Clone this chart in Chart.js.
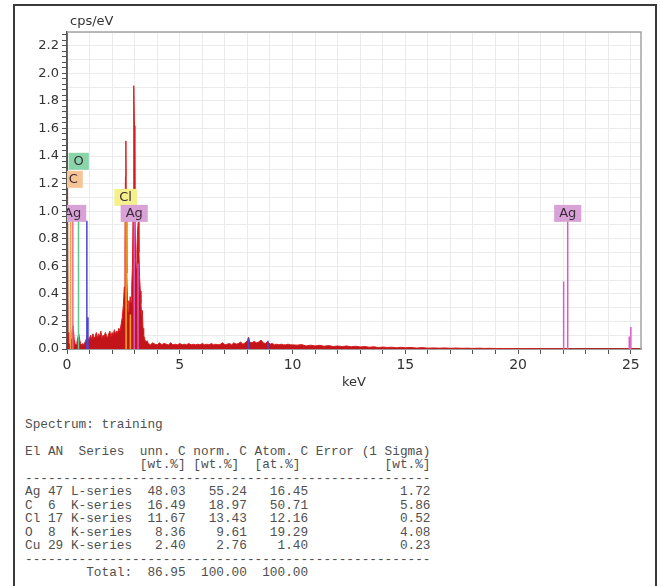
<!DOCTYPE html>
<html>
<head>
<meta charset="utf-8">
<script src="https://cdn.jsdelivr.net/npm/chart.js@4.4.0/dist/chart.umd.min.js"></script>
<style>
  html, body { margin: 0; padding: 0; background: #fff; width: 660px; height: 586px; overflow: hidden; }
  #frame { position: absolute; left: 13px; top: 4px; width: 640px; height: 640px; border: 2px solid #3a3a3a; border-bottom: none; }
  #wrap { position: absolute; left: 0; top: 0; width: 660px; height: 400px; }
  #table { position: absolute; left: 25px; top: 418px; margin: 0; font: 12.75px/13.45px "Liberation Mono", monospace; color: #505050; }
</style>
</head>
<body>
<div id="frame"></div>
<div id="wrap"><canvas id="chart" width="660" height="400"></canvas></div>
<pre id="table"></pre>
<script>
// Spektrum (keV / cps/eV)
const specKeV = [
  0.00, 0.03, 0.05, 0.08, 0.11, 0.14, 0.18, 0.22, 0.26, 0.29, 0.32, 0.36, 0.40, 0.44, 0.48, 0.52,
  0.56, 0.60, 0.65, 0.70, 0.75, 0.80, 0.85, 0.90, 0.95, 1.00, 1.05, 1.10, 1.15, 1.20, 1.25, 1.30,
  1.35, 1.40, 1.45, 1.50, 1.55, 1.60, 1.65, 1.70, 1.75, 1.80, 1.85, 1.90, 1.95, 2.00, 2.05, 2.10,
  2.15, 2.20, 2.25, 2.30, 2.35, 2.40, 2.45, 2.50, 2.54, 2.57, 2.59, 2.61, 2.63, 2.65, 2.68, 2.71,
  2.74, 2.77, 2.80, 2.84, 2.87, 2.90, 2.93, 2.95, 2.97, 2.99, 3.01, 3.04, 3.07, 3.10, 3.13, 3.16,
  3.19, 3.22, 3.25, 3.28, 3.31, 3.34, 3.37, 3.40, 3.45, 3.50, 3.55,
  3.60, 3.70, 3.80, 3.90, 4.00, 4.10, 4.20, 4.30, 4.40, 4.50, 4.60, 4.70, 4.80, 4.90, 5.00, 5.10,
  5.20, 5.30, 5.40, 5.50, 5.60, 5.70, 5.80, 5.90, 6.00, 6.10, 6.20, 6.30, 6.40, 6.50, 6.60, 6.70,
  6.80, 6.90, 7.00, 7.10, 7.20, 7.30, 7.40, 7.50, 7.60, 7.70, 7.80, 7.90, 8.00, 8.05, 8.10, 8.20,
  8.30, 8.40, 8.50, 8.60, 8.70, 8.80, 8.90, 9.00, 9.10, 9.20, 9.30, 9.40, 9.50, 9.60, 9.70, 9.80,
  9.90, 10.0, 10.2, 10.4, 10.6, 10.8, 11.0, 11.2, 11.4, 11.6, 11.8, 12.0, 12.2, 12.4, 12.6, 12.8,
  13.0, 13.2, 13.4, 13.6, 13.8, 14.0, 14.2, 14.4, 14.6, 14.8, 15.0, 15.25, 15.5, 15.75, 16.0, 16.25,
  16.5, 16.75, 17.0, 17.25, 17.5, 17.75, 18.0, 18.25, 18.5, 18.75, 19.0, 19.25, 19.5, 19.75, 20.0, 20.5,
  21.0, 21.5, 22.0, 22.5, 23.0, 24.0, 25.0, 25.45
];
const specCps = [
  2.40, 2.40, 0.12, 0.05, 0.03, 0.04, 0.07, 0.12, 0.17, 0.13, 0.07, 0.04, 0.03, 0.05, 0.08, 0.11,
  0.07, 0.04, 0.03, 0.04, 0.03, 0.05, 0.07, 0.10, 0.06, 0.08, 0.10, 0.07, 0.11, 0.08, 0.09, 0.12,
  0.08, 0.11, 0.09, 0.13, 0.08, 0.10, 0.09, 0.12, 0.10, 0.08, 0.11, 0.13, 0.09, 0.12, 0.10, 0.14,
  0.11, 0.13, 0.12, 0.15, 0.13, 0.18, 0.23, 0.32, 0.45, 0.75, 1.25, 1.51, 1.05, 0.55, 0.33, 0.27,
  0.35, 0.30, 0.38, 0.34, 0.45, 0.60, 1.00, 1.55, 1.91, 1.62, 1.05, 0.65, 0.58, 0.72, 0.86, 0.92,
  0.70, 0.52, 0.42, 0.33, 0.24, 0.28, 0.15, 0.10, 0.07, 0.05, 0.06,
  0.040, 0.030, 0.045, 0.035, 0.030, 0.045, 0.030, 0.040, 0.035, 0.030, 0.045, 0.030, 0.035, 0.030, 0.040, 0.030,
  0.035, 0.030, 0.040, 0.030, 0.035, 0.030, 0.035, 0.030, 0.040, 0.030, 0.035, 0.030, 0.040, 0.030, 0.035, 0.030,
  0.035, 0.045, 0.030, 0.035, 0.040, 0.030, 0.045, 0.035, 0.040, 0.050, 0.035, 0.045, 0.060, 0.085, 0.050, 0.045,
  0.055, 0.045, 0.050, 0.065, 0.045, 0.040, 0.055, 0.035, 0.040, 0.030, 0.035, 0.030, 0.035, 0.030, 0.030, 0.035,
  0.030, 0.030, 0.028, 0.032, 0.022, 0.028, 0.022, 0.027, 0.020, 0.025, 0.018, 0.022, 0.018, 0.022, 0.016, 0.020,
  0.015, 0.018, 0.013, 0.016, 0.011, 0.014, 0.011, 0.013, 0.009, 0.012, 0.009, 0.011, 0.007, 0.010, 0.006, 0.008,
  0.006, 0.008, 0.005, 0.007, 0.005, 0.006, 0.004, 0.006, 0.004, 0.005, 0.003, 0.004, 0.003, 0.004, 0.002, 0.003,
  0.002, 0.002, 0.002, 0.001, 0.001, 0.001, 0.001, 0.001
];

// Elementmarker (Linie von 0 bis Höhe)
const orangeKeV = [0.16],  orangeTop = [0.93];
const roseKeV   = [0.26],  roseTop   = [0.93];
const greenKeV  = [0.51],  greenTop  = [0.93];
const blueKeV   = [0.88, 0.93, 8.05, 8.91], blueTop = [0.93, 0.23, 0.08, 0.06];
const clKeV     = [2.62, 2.81], clTop = [1.04, 0.25];
const agKeV     = [2.98, 3.15, 22.02, 22.20, 24.93, 25.00];
const agTop     = [0.93, 0.62, 0.49, 0.93, 0.09, 0.16];

// Beschriftungskästchen
const labelText = ['Ag', 'C', 'O', 'Cl', 'Ag', 'Ag'];
const labelKeV  = [0.25, 0.277, 0.52, 2.60, 2.98, 22.20];
const labelCps  = [0.984, 1.231, 1.362, 1.100, 0.984, 0.984];
const labelFill = ['#d9a2d6', '#f7c495', '#8ad4aa', '#f4f08c', '#d9a2d6', '#d9a2d6'];

// Quantifizierungstabelle
const tblEl     = ['Ag', 'C', 'Cl', 'O', 'Cu'];
const tblAN     = ['47', '6', '17', '8', '29'];
const tblSeries = ['L-series', 'K-series', 'K-series', 'K-series', 'K-series'];
const tblUnn    = ['48.03', '16.49', '11.67', '8.36', '2.40'];
const tblNorm   = ['55.24', '18.97', '13.43', '9.61', '2.76'];
const tblAtom   = ['16.45', '50.71', '12.16', '19.29', '1.40'];
const tblErr    = ['1.72', '5.86', '0.52', '4.08', '0.23'];
const tblTotal  = ['86.95', '100.00', '100.00'];

function markerData(keVs, tops) {
  const out = [];
  keVs.forEach((k, i) => {
    out.push({ x: k, y: 0 }, { x: k, y: tops[i] }, { x: k, y: null });
  });
  return out;
}

function markerSet(keVs, tops, color) {
  return {
    data: markerData(keVs, tops),
    borderColor: color,
    borderWidth: 1.5,
    pointRadius: 0,
    fill: false,
    spanGaps: false,
    order: 0
  };
}

const yIdx = v => Math.round(v / 0.02);

// Rahmen oben/rechts, Achsentitel und Elementkästchen
const decor = {
  id: 'decor',
  afterDatasetsDraw(chart) {
    const { ctx, chartArea: a, scales: { x, y } } = chart;
    ctx.save();
    ctx.beginPath();
    ctx.rect(a.left, a.top, a.right - a.left, a.bottom - a.top);
    ctx.clip();
    ctx.font = '13px "DejaVu Sans"';
    ctx.textBaseline = 'middle';
    ctx.textAlign = 'center';
    labelText.forEach((t, i) => {
      const w = ctx.measureText(t).width + 10;
      const cx = x.getPixelForValue(labelKeV[i]);
      const cy = y.getPixelForValue(labelCps[i]);
      ctx.fillStyle = labelFill[i];
      ctx.fillRect(cx - w / 2, cy - 8.5, w, 17);
      ctx.fillStyle = '#3a2a38';
      ctx.fillText(t, cx, cy + 0.5);
    });
    ctx.restore();
  },
  afterDraw(chart) {
    const { ctx, chartArea: a } = chart;
    ctx.save();
    ctx.strokeStyle = '#a4a4a4';
    ctx.lineWidth = 1.5;
    ctx.beginPath();
    ctx.moveTo(a.left, a.top);
    ctx.lineTo(a.right, a.top);
    ctx.lineTo(a.right, a.bottom);
    ctx.stroke();
    ctx.fillStyle = '#333';
    ctx.font = '13px "DejaVu Sans"';
    ctx.textBaseline = 'middle';
    ctx.textAlign = 'left';
    ctx.fillText('cps/eV', a.left + 3, a.top - 10);
    ctx.restore();
  }
};

const tickFont = { family: 'DejaVu Sans', size: 13 };

new Chart(document.getElementById('chart'), {
  type: 'line',
  data: {
    datasets: [
      markerSet(orangeKeV, orangeTop, '#f0a838'),
      markerSet(roseKeV, roseTop, '#ee6a8c'),
      markerSet(greenKeV, greenTop, '#62c88e'),
      markerSet(blueKeV, blueTop, '#4a46d0'),
      markerSet(clKeV, clTop, '#f0a818'),
      markerSet(agKeV, agTop, '#d95cc8'),
      {
        data: specKeV.map((k, i) => ({ x: k, y: specCps[i] })),
        borderColor: '#d81c1c',
        backgroundColor: '#c3141a',
        borderWidth: 1,
        pointRadius: 0,
        tension: 0,
        fill: 'origin',
        order: 10
      }
    ]
  },
  options: {
    responsive: false,
    animation: false,
    events: [],
    layout: { padding: { left: 0, right: 19, top: 32, bottom: 7 } },
    plugins: { legend: { display: false }, tooltip: { enabled: false } },
    scales: {
      x: {
        type: 'linear',
        min: 0,
        max: 25.45,
        afterFit: s => { s.height = 44; },
        border: { color: '#555', width: 1.5 },
        grid: { color: '#ebebeb', tickColor: '#555', tickLength: 5 },
        ticks: {
          stepSize: 1,
          autoSkip: false,
          includeBounds: false,
          maxRotation: 0,
          padding: 3,
          color: '#333',
          font: { family: 'DejaVu Sans', size: 14 },
          callback: v => (v % 5 === 0 ? String(v) : '')
        },
        title: { display: true, text: 'keV', color: '#333', font: tickFont, padding: { top: 2, bottom: 3 } }
      },
      y: {
        type: 'linear',
        min: 0,
        max: 2.3,
        afterFit: s => { s.width = 67; },
        border: { color: '#555', width: 1.5 },
        grid: {
          color: c => (yIdx(c.tick.value) % 5 === 0 ? '#ebebeb' : 'rgba(0,0,0,0)'),
          tickColor: c => (yIdx(c.tick.value) % 2 === 0 ? '#555' : 'rgba(0,0,0,0)'),
          tickLength: 5
        },
        ticks: {
          stepSize: 0.02,
          autoSkip: false,
          padding: 3,
          color: '#333',
          font: tickFont,
          callback: v => (yIdx(v) % 10 === 0 ? v.toFixed(1) : '')
        }
      }
    }
  },
  plugins: [decor]
});

// Tabelle als Text aufbauen
const dash = '-'.repeat(53);
const lines = [
  'Spectrum: training',
  '',
  'El AN  Series  unn. C norm. C Atom. C Error (1 Sigma)',
  ' '.repeat(15) + '[wt.%] [wt.%]  [at.%]' + ' '.repeat(11) + '[wt.%]',
  dash
];
tblEl.forEach((el, i) => {
  lines.push(
    el.padEnd(3) + tblAN[i].padEnd(3) + tblSeries[i].padEnd(8) +
    tblUnn[i].padStart(7) + tblNorm[i].padStart(8) + tblAtom[i].padStart(8) +
    tblErr[i].padStart(16)
  );
});
lines.push(dash);
lines.push(' '.repeat(8) + 'Total:' + tblTotal[0].padStart(7) + tblTotal[1].padStart(8) + tblTotal[2].padStart(8));
document.getElementById('table').textContent = lines.join('\n');
</script>
</body>
</html>
